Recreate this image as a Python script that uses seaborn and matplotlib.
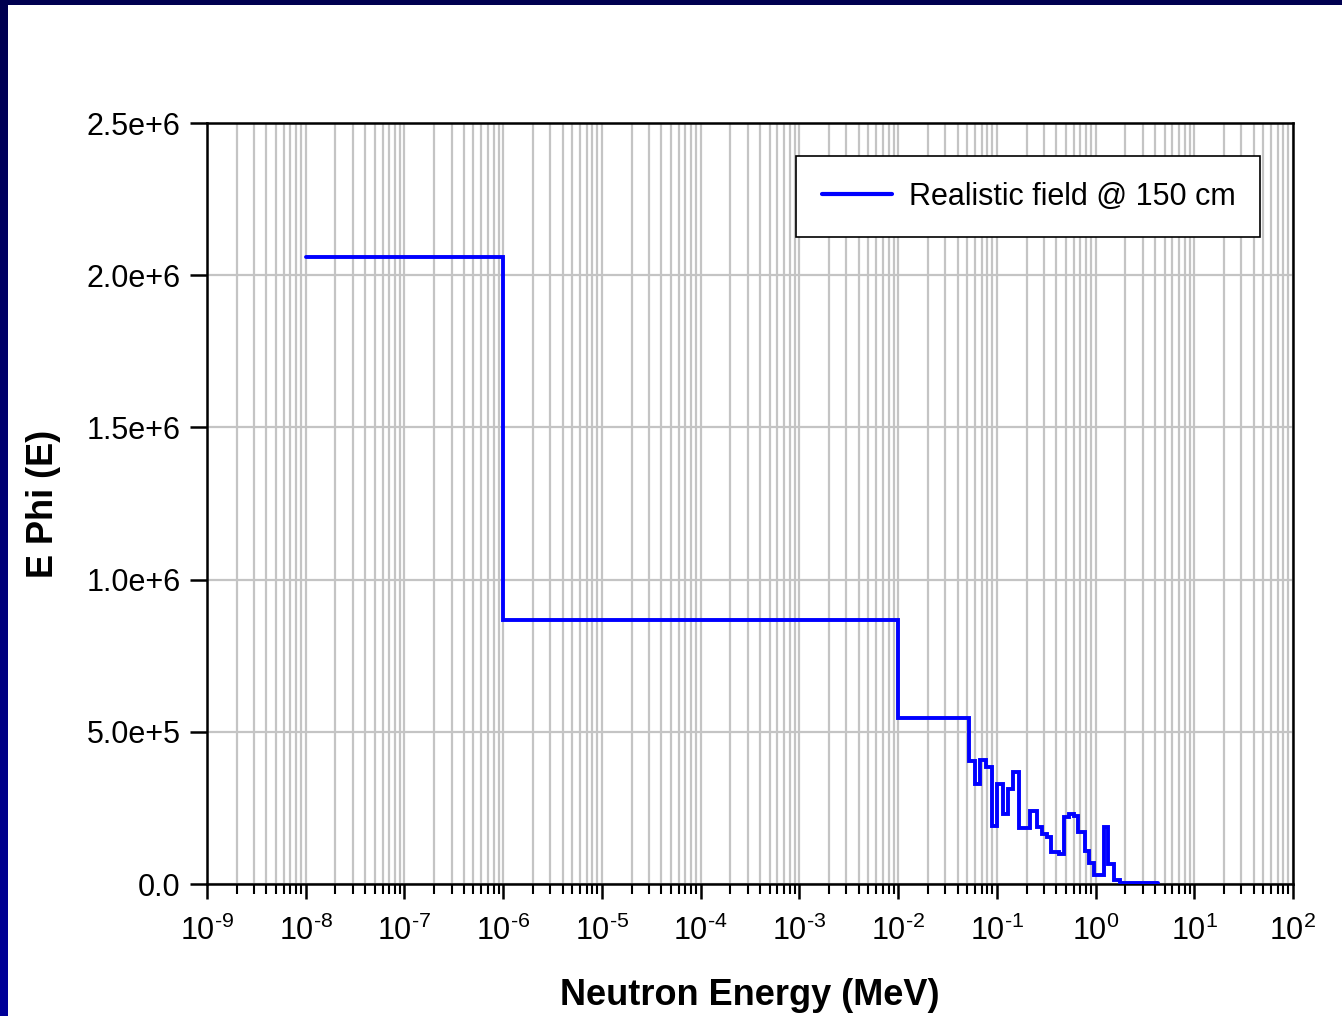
import numpy as np
import pandas as pd
import matplotlib
matplotlib.use("Agg")
import matplotlib.pyplot as plt
import matplotlib.ticker as mticker
import seaborn as sns

# Bin edges (MeV) and E*Phi(E) values per bin
edges = [1e-8, 1e-6, 1e-2, 0.0525, 0.060, 0.0675, 0.0776, 0.0887, 0.101, 0.115,
         0.131, 0.147, 0.167, 0.217, 0.253, 0.284, 0.324, 0.354, 0.43, 0.482,
         0.542, 0.609, 0.668, 0.781, 0.865, 0.964, 1.227, 1.327, 1.55, 1.77, 4.3]
values = [2.06e6, 0.867e6, 0.545e6, 0.404e6, 0.327e6, 0.407e6, 0.385e6, 0.19e6,
          0.327e6, 0.23e6, 0.311e6, 0.368e6, 0.183e6, 0.24e6, 0.188e6, 0.163e6,
          0.155e6, 0.106e6, 0.097e6, 0.219e6, 0.23e6, 0.223e6, 0.171e6, 0.109e6,
          0.068e6, 0.03e6, 0.186e6, 0.066e6, 0.013e6, 0.004e6]
series_name = "Realistic field @ 150 cm"
y_ticks = [0.0, 0.5e6, 1.0e6, 1.5e6, 2.0e6, 2.5e6]
y_tick_labels = ["0.0", "5.0e+5", "1.0e+6", "1.5e+6", "2.0e+6", "2.5e+6"]
x_label = "Neutron Energy (MeV)"
y_label = "E Phi (E)"

sns.set_style("white")
plt.rcParams['font.family'] = ['Liberation Sans', 'DejaVu Sans']
plt.rcParams['mathtext.fontset'] = 'custom'
plt.rcParams['mathtext.rm'] = 'Liberation Sans'
plt.rcParams['mathtext.it'] = 'Liberation Sans'
plt.rcParams['mathtext.bf'] = 'Liberation Sans:bold'
plt.rcParams['text.color'] = 'black'
plt.rcParams['axes.labelcolor'] = 'black'
plt.rcParams['xtick.color'] = 'black'
plt.rcParams['ytick.color'] = 'black'

df = pd.DataFrame({"E": edges, "EPhi": values + [values[-1]], "series": series_name})

fig = plt.figure(figsize=(13.42, 10.16), dpi=100)
fig.patch.set_facecolor("white")

# decorative navy frame (left gradient bar and top bar)
bar_ax = fig.add_axes([0, 0, 8 / 1342, 1])
grad = np.linspace(0, 1, 256).reshape(-1, 1)
cmap = matplotlib.colors.LinearSegmentedColormap.from_list("nv", ["#000050", "#00009a"])
bar_ax.imshow(grad, aspect="auto", cmap=cmap, extent=[0, 1, 0, 1], origin="upper")
bar_ax.axis("off")
top_ax = fig.add_axes([0, 1 - 5 / 1016, 1, 5 / 1016])
top_ax.set_facecolor("#000050")
top_ax.set_xticks([]); top_ax.set_yticks([])
for s in top_ax.spines.values():
    s.set_visible(False)

ax = fig.add_axes([207 / 1342, 1 - 884 / 1016, (1293 - 207) / 1342, (884 - 123) / 1016])
ax.set_xscale("log")
sns.lineplot(data=df, x="E", y="EPhi", hue="series", palette=["#0000ff"],
             drawstyle="steps-post", sort=False, estimator=None,
             linewidth=2.8, ax=ax, zorder=3)
for ln in ax.get_lines():
    ln.set_linewidth(2.8)
    ln.set_solid_joinstyle("miter")

ax.set_xlim(1e-9, 1e2)
ax.set_ylim(0, 2.5e6)
ax.xaxis.set_major_locator(mticker.LogLocator(base=10, numticks=20))
ax.xaxis.set_minor_locator(mticker.LogLocator(base=10, subs=np.arange(2, 10), numticks=200))
ax.xaxis.set_minor_formatter(mticker.NullFormatter())


def fmt_pow(v, p):
    e = int(round(np.log10(v)))
    if e < 0:
        return r"$\mathregular{10^{\text{-}%d}}$" % (-e)
    return r"$\mathregular{10^{%d}}$" % e


ax.xaxis.set_major_formatter(mticker.FuncFormatter(fmt_pow))
ax.set_yticks(y_ticks)
ax.set_yticklabels(y_tick_labels)

ax.grid(True, which="major", axis="both", color="#c4c4c4", linewidth=1.6, zorder=0)
ax.grid(True, which="minor", axis="x", color="#c4c4c4", linewidth=1.6, zorder=0)
ax.set_axisbelow(True)

for s in ax.spines.values():
    s.set_visible(True)
    s.set_color("black")
    s.set_linewidth(1.8)

ax.tick_params(axis="x", which="major", direction="out", length=11, width=1.8,
               labelsize=22, pad=12, bottom=True, colors="black")
ax.tick_params(axis="x", which="minor", direction="out", length=7, width=1.5, bottom=True)
ax.tick_params(axis="y", which="major", direction="out", length=12, width=1.8,
               labelsize=22, pad=7, left=True, colors="black")

ax.set_xlabel(x_label, fontsize=26, fontweight="bold", labelpad=22)
ax.set_ylabel(y_label, fontsize=26, fontweight="bold", labelpad=18)

leg = ax.legend(loc="upper right", bbox_to_anchor=(0.97, 0.956), fontsize=22,
                frameon=True, fancybox=False, edgecolor="black", framealpha=1,
                borderpad=0.82, handlelength=2.3, handletextpad=0.55,
                borderaxespad=0)
leg.get_frame().set_linewidth(1.2)
for line in leg.get_lines():
    line.set_linewidth(3)
for t in leg.get_texts():
    t.set_color("black")

fig.savefig("out.png", dpi=100, facecolor="white")
